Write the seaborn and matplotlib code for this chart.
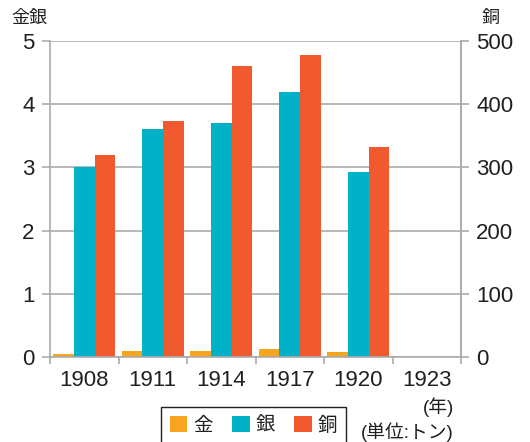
import numpy as np
import pandas as pd
import matplotlib
matplotlib.use("Agg")
import matplotlib.pyplot as plt
from matplotlib.patches import Patch
import seaborn as sns

# ─── Data ─────────────────────────────────────────────────────────────────────
years = ["1908", "1911", "1914", "1917", "1920", "1923"]
gold = [0.05, 0.10, 0.10, 0.13, 0.08]        # 金, left axis
silver = [3.00, 3.60, 3.71, 4.20, 2.93]      # 銀, left axis
copper = [319, 374, 460, 478, 333]           # 銅, right axis
metals = ["金", "銀", "銅"]
colors = ["#F7A51E", "#00B1C8", "#F15A2F"]

COPPER_SCALE = 100   # right axis 0-500 maps onto left axis 0-5
GRID = "#ABABAB"
INK = "#231F20"

rows = []
for i, yr in enumerate(years[:len(gold)]):
    rows.append((yr, "金", gold[i]))
    rows.append((yr, "銀", silver[i]))
    rows.append((yr, "銅", copper[i] / COPPER_SCALE))
df = pd.DataFrame(rows, columns=["year", "metal", "value"])

# ─── Plot ─────────────────────────────────────────────────────────────────────
sns.set_theme(style="white")
plt.rcParams["font.family"] = ["Liberation Sans", "Noto Sans CJK JP"]
plt.rcParams["text.color"] = INK

fig = plt.figure(figsize=(5.3, 4.42), dpi=100)
ax = fig.add_axes([50 / 530, 85 / 442, 411 / 530, 316 / 442])

sns.barplot(data=df, x="year", y="value", hue="metal", order=years,
            hue_order=metals, palette=colors, saturation=1, width=0.9,
            gap=0, legend=False, linewidth=0, edgecolor="none", ax=ax)

ax.set_xlim(-0.5, 5.5)
ax.set_ylim(0, 5)
ax.set_xlabel("")
ax.set_ylabel("")
ax.set_axisbelow(True)
ax.set_yticks(range(6))
ax.yaxis.grid(True, color=GRID, lw=1.2)

ax.set_xticks(range(len(years)))
ax.set_xticklabels(years)
ax.set_xticks(np.arange(-0.5, len(years)), minor=True)
ax.tick_params(axis="x", which="major", length=0, labelsize=16,
               labelcolor=INK, pad=9)
ax.tick_params(axis="x", which="minor", length=5, width=1.2, color=GRID,
               direction="out", bottom=True)
ax.tick_params(axis="y", length=6, width=1.2, color=GRID, labelsize=16,
               labelcolor=INK, pad=5, left=True)

for side in ["left", "right", "bottom"]:
    ax.spines[side].set_color(GRID)
    ax.spines[side].set_linewidth(1.2)
ax.spines["top"].set_visible(False)

sec = ax.secondary_yaxis("right", functions=(lambda v: v * COPPER_SCALE,
                                             lambda v: v / COPPER_SCALE))
sec.set_yticks(range(0, 501, 100))
sec.tick_params(axis="y", length=6, width=1.2, color=GRID, labelsize=16,
                labelcolor=INK, pad=5)
sec.spines["right"].set_color(GRID)
sec.spines["right"].set_linewidth(1.2)

# axis captions
fig.text(11 / 530, 1 - 18 / 442, "金銀", fontsize=13, va="center", ha="left")
fig.text(500 / 530, 1 - 18 / 442, "銅", fontsize=13, va="center", ha="right")
fig.text(454 / 530, 1 - 407 / 442, "(年)", fontsize=13.5, va="center", ha="right")
fig.text(454 / 530, 1 - 432 / 442, "(単位:トン)", fontsize=13.5,
         va="center", ha="right")

handles = [Patch(facecolor=c, edgecolor="none") for c in colors]
leg = fig.legend(handles, metals, loc="upper left",
                 bbox_to_anchor=(161 / 530, 1 - 407 / 442), ncol=3,
                 fontsize=14, handlelength=0.9, handleheight=0.9,
                 handletextpad=0.3, columnspacing=1.0, borderpad=0.45,
                 borderaxespad=0, fancybox=False, framealpha=1)
leg.get_frame().set_edgecolor(INK)
leg.get_frame().set_linewidth(1.0)

fig.savefig("out.png", dpi=100)
